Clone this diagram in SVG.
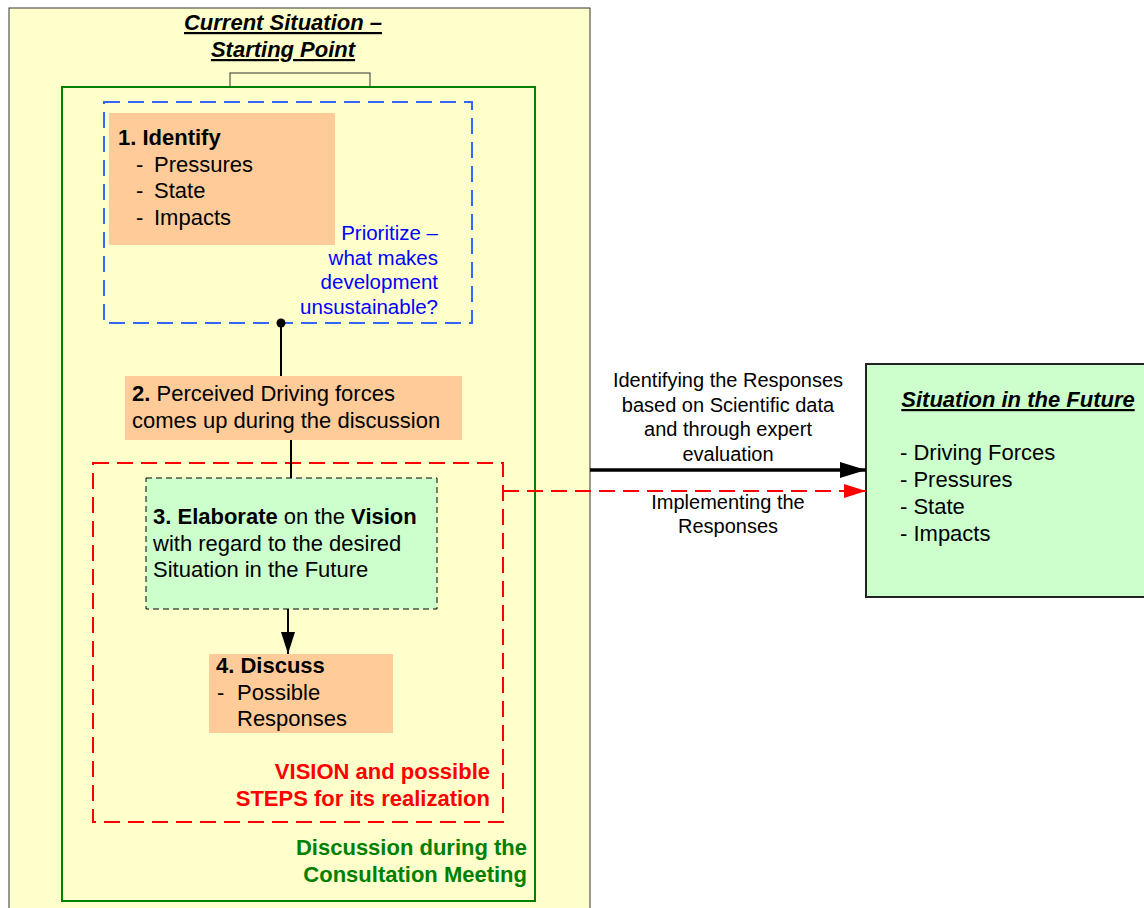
<svg xmlns="http://www.w3.org/2000/svg" width="1144" height="908" viewBox="0 0 1144 908">
<defs>
<style>
text{font-family:"Liberation Sans",Arial,sans-serif;font-size:22px;fill:#000}
.b{font-weight:bold}
.t{font-weight:bold;font-style:italic;text-decoration:underline}
.lbl{font-size:20px}
.blue{fill:#0000FF;font-size:20.5px}
.red{fill:#FF0000;font-weight:bold}
.grn{fill:#008000;font-weight:bold}
.org{fill:#FFCC99;stroke:none}
.conn{stroke:#000;stroke-width:2;fill:none}
</style>
<marker id="ahbig" markerWidth="26" markerHeight="16" refX="26" refY="8" orient="auto" markerUnits="userSpaceOnUse" viewBox="0 0 26 16">
<path d="M0,0 L26,8 L0,16 z" fill="#000"/>
</marker>
<marker id="ahred" markerWidth="22" markerHeight="14" refX="22" refY="7" orient="auto" markerUnits="userSpaceOnUse" viewBox="0 0 22 14">
<path d="M0,0 L22,7 L0,14 z" fill="#FF0000"/>
</marker>
<marker id="ahblk" markerWidth="22" markerHeight="14" refX="22" refY="7" orient="auto" markerUnits="userSpaceOnUse" viewBox="0 0 22 14">
<path d="M0,0 L22,7 L0,14 z" fill="#000"/>
</marker>
</defs>

<g id="current-situation">
<rect x="9" y="8" width="581" height="910" fill="#FFFFCC" stroke="#333" stroke-width="1"/>
<text class="t" x="283" y="30" text-anchor="middle">Current Situation –</text>
<text class="t" x="283" y="57" text-anchor="middle">Starting Point</text>
<rect x="230" y="73" width="140" height="14" fill="#FFFFCC" stroke="#333" stroke-width="1"/>
</g>

<g id="consultation-meeting">
<rect x="62" y="87" width="473" height="814" fill="none" stroke="#008000" stroke-width="2"/>
<text class="grn" x="527" y="855" text-anchor="end">Discussion during the</text>
<text class="grn" x="527" y="882" text-anchor="end">Consultation Meeting</text>
</g>

<g id="prioritize">
<rect x="104" y="102" width="368" height="221" fill="none" stroke="#3366FF" stroke-width="2" stroke-dasharray="16,8"/>
<text class="blue" x="438" y="240" text-anchor="end">Prioritize –</text>
<text class="blue" x="438" y="265" text-anchor="end">what makes</text>
<text class="blue" x="438" y="289" text-anchor="end">development</text>
<text class="blue" x="438" y="314" text-anchor="end">unsustainable?</text>
</g>

<g id="identify">
<rect class="org" x="109" y="113" width="226" height="132"/>
<text class="b" x="118" y="145">1. Identify</text>
<text x="136" y="172">-</text><text x="154" y="172">Pressures</text>
<text x="136" y="198">-</text><text x="154" y="198">State</text>
<text x="136" y="225">-</text><text x="154" y="225">Impacts</text>
</g>

<g id="vision-steps">
<rect x="93" y="463" width="410" height="359" fill="none" stroke="#FF0000" stroke-width="2" stroke-dasharray="16,8"/>
<text class="red" x="490" y="779" text-anchor="end">VISION and possible</text>
<text class="red" x="490" y="806" text-anchor="end">STEPS for its realization</text>
</g>

<g id="driving-forces">
<rect class="org" x="125" y="376" width="337" height="64"/>
<text x="132" y="401"><tspan class="b">2.</tspan> Perceived Driving forces</text>
<text x="132" y="428">comes up during the discussion</text>
</g>

<g id="elaborate">
<rect x="146" y="478" width="291" height="131" fill="#CCFFCC" stroke="#000" stroke-width="1" stroke-dasharray="6,4"/>
<text x="153" y="524"><tspan class="b">3. Elaborate</tspan> on the <tspan class="b">Vision</tspan></text>
<text x="153" y="551">with regard to the desired</text>
<text x="153" y="577">Situation in the Future</text>
</g>

<g id="discuss">
<rect class="org" x="209" y="654" width="184" height="79"/>
<text class="b" x="216" y="673">4. Discuss</text>
<text x="217" y="700">-</text><text x="237" y="700">Possible</text>
<text x="237" y="726">Responses</text>
</g>

<g id="future">
<rect x="866" y="364" width="290" height="233" fill="#CCFFCC" stroke="#222" stroke-width="2"/>
<text class="t" x="1018" y="407" text-anchor="middle">Situation in the Future</text>
<text x="900" y="460">- Driving Forces</text>
<text x="900" y="487">- Pressures</text>
<text x="900" y="514">- State</text>
<text x="900" y="541">- Impacts</text>
</g>

<g id="connectors">
<circle cx="281" cy="323" r="4.5" fill="#000"/>
<line class="conn" x1="281" y1="323" x2="281" y2="376"/>
<line class="conn" x1="291" y1="440" x2="291" y2="478"/>
<line class="conn" x1="288" y1="609" x2="288" y2="654" marker-end="url(#ahblk)"/>
<line x1="590" y1="470" x2="866" y2="470" stroke="#000" stroke-width="3.5" marker-end="url(#ahbig)"/>
<line x1="503" y1="491" x2="866" y2="491" stroke="#FF0000" stroke-width="2" stroke-dasharray="16,8" marker-end="url(#ahred)"/>
<line x1="503" y1="485" x2="503" y2="497" stroke="#FF0000" stroke-width="2"/>
<text class="lbl" x="728" y="387" text-anchor="middle">Identifying the Responses</text>
<text class="lbl" x="728" y="412" text-anchor="middle">based on Scientific data</text>
<text class="lbl" x="728" y="436" text-anchor="middle">and through expert</text>
<text class="lbl" x="728" y="461" text-anchor="middle">evaluation</text>
<text class="lbl" x="728" y="509" text-anchor="middle">Implementing the</text>
<text class="lbl" x="728" y="533" text-anchor="middle">Responses</text>
</g>
</svg>
